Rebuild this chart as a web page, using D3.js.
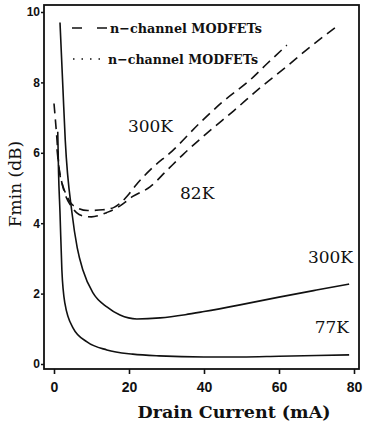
<!DOCTYPE html>
<html>
<head>
<meta charset="utf-8">
<script src="https://cdn.jsdelivr.net/npm/d3@7"></script>
<style>
  body { margin: 0; background: #fff; }
  svg { display: block; }
</style>
</head>
<body>
<svg id="chart" width="366" height="427"></svg>
<script>
// tick values
var xTicks = [0, 20, 40, 60, 80];
var yTicks = [0, 2, 4, 6, 8, 10];

// curves, [drain current mA, Fmin dB]
var solid300K = [[1.6, 9.7], [2.4, 7.78], [3.0, 6.36], [4.8, 4.29], [6.2, 3.3], [7.7, 2.67],
  [10.4, 2.02], [14.1, 1.62], [17.6, 1.39], [22.1, 1.28], [28.3, 1.31], [35, 1.4],
  [40, 1.49], [49.6, 1.68], [60, 1.9], [70, 2.1], [78.7, 2.27]];
var solid77K = [[1.0, 6.6], [1.2, 5.5], [1.6, 4.3], [2.1, 2.67], [2.9, 1.73], [5.1, 1.02],
  [8.8, 0.63], [14.1, 0.40], [21, 0.28], [28, 0.23], [40, 0.2], [50, 0.2], [60, 0.22],
  [70, 0.24], [78.7, 0.26]];
var dashed300K = [[0, 7.4], [0.8, 6.36], [1.3, 5.6], [2.1, 5.15], [2.9, 4.9], [4.5, 4.57],
  [6, 4.45], [9, 4.36], [13, 4.38], [16, 4.45], [18, 4.6], [20, 4.83], [22, 5.1],
  [26, 5.55], [31.5, 6.05], [38.9, 6.85], [45, 7.45], [52.3, 8.07], [57, 8.55], [62.1, 9.06]];
var dashed82K = [[0.8, 6.1], [1.3, 5.6], [2.1, 5.15], [3.2, 4.75], [4.5, 4.5], [6, 4.3],
  [8, 4.2], [10, 4.18], [12, 4.22], [14, 4.3], [17, 4.45], [19, 4.6], [21, 4.76],
  [25.6, 5.03], [30.1, 5.5], [34.4, 5.95], [40.8, 6.56], [48, 7.2], [55, 7.85],
  [62, 8.45], [68, 8.98], [74.9, 9.55]];

// temperature labels, anchored in data units
var tempLabels = [
  { text: "300K", at: [19.7, 6.6] },
  { text: "82K", at: [33.6, 4.7] },
  { text: "300K", at: [67.7, 2.88] },
  { text: "77K", at: [69.5, 0.88] }
];
var legendText = ["n\u2212channel MODFETs", "n\u2212channel MODFETs"];

var svg = d3.select("#chart");

var x = d3.scaleLinear().domain([0, 80]).range([54, 354]);
var y = d3.scaleLinear().domain([0, 10]).range([364, 12]);

// plot box edges
var boxL = 44, boxT = 5, boxR = 359, boxB = 369;

svg.append("rect")
  .attr("x", boxL).attr("y", boxT)
  .attr("width", boxR - boxL).attr("height", boxB - boxT)
  .attr("fill", "none").attr("stroke", "#111").attr("stroke-width", 1.8);

// x axis
var gx = svg.append("g")
  .attr("transform", "translate(0," + boxB + ")")
  .call(d3.axisBottom(x).tickValues(xTicks).tickSize(5).tickPadding(8));
gx.select(".domain").remove();
gx.selectAll("line").attr("stroke", "#111").attr("stroke-width", 1.6);
gx.selectAll("text")
  .attr("font-family", "Liberation Sans, Arial, sans-serif")
  .attr("font-weight", "bold").attr("font-size", 14).attr("fill", "#111");

// y axis
var gy = svg.append("g")
  .attr("transform", "translate(" + boxL + ",0)")
  .call(d3.axisLeft(y).tickValues(yTicks).tickSize(3).tickPadding(1));
gy.select(".domain").remove();
gy.selectAll("line").attr("stroke", "#111").attr("stroke-width", 1.5);
gy.selectAll("text")
  .attr("font-family", "Liberation Sans, Arial, sans-serif")
  .attr("font-weight", "bold").attr("font-size", 12).attr("fill", "#111");

// axis titles
svg.append("text")
  .attr("x", 234).attr("y", 418)
  .attr("text-anchor", "middle")
  .attr("font-family", "DejaVu Serif, serif").attr("font-weight", "bold")
  .attr("font-size", 17).attr("textLength", 193).attr("lengthAdjust", "spacingAndGlyphs")
  .attr("fill", "#111")
  .text("Drain Current (mA)");

svg.append("text")
  .attr("transform", "translate(21,184) rotate(-90)")
  .attr("text-anchor", "middle")
  .attr("font-family", "DejaVu Serif, serif")
  .attr("font-size", 17).attr("fill", "#111")
  .text("Fmin (dB)");

// curves
var line = d3.line()
  .x(function (d) { return x(d[0]); })
  .y(function (d) { return y(d[1]); })
  .curve(d3.curveMonotoneX);

function drawCurve(data, dash) {
  svg.append("path")
    .datum(data)
    .attr("d", line)
    .attr("fill", "none")
    .attr("stroke", "#111")
    .attr("stroke-width", 1.6)
    .attr("stroke-dasharray", dash);
}
drawCurve(solid300K, null);
drawCurve(solid77K, null);
drawCurve(dashed300K, "10,6");
drawCurve(dashed82K, "10,6");

// temperature labels
svg.selectAll(".temp")
  .data(tempLabels)
  .enter().append("text")
  .attr("class", "temp")
  .attr("x", function (d) { return x(d.at[0]); })
  .attr("y", function (d) { return y(d.at[1]); })
  .attr("font-family", "DejaVu Serif, serif")
  .attr("font-size", 17).attr("fill", "#111")
  .text(function (d) { return d.text; });

// legend
svg.append("line")
  .attr("x1", 72).attr("x2", 108).attr("y1", 28).attr("y2", 28)
  .attr("stroke", "#111").attr("stroke-width", 1.4).attr("stroke-dasharray", "10,15");
svg.append("line")
  .attr("x1", 73).attr("x2", 102).attr("y1", 59).attr("y2", 59)
  .attr("stroke", "#111").attr("stroke-width", 1.4).attr("stroke-dasharray", "1.5,7");

svg.selectAll(".leg")
  .data(legendText)
  .enter().append("text")
  .attr("class", "leg")
  .attr("x", function (d, i) { return i == 0 ? 110 : 108; })
  .attr("y", function (d, i) { return i == 0 ? 33 : 64; })
  .attr("font-family", "DejaVu Serif, serif").attr("font-weight", "bold")
  .attr("font-size", 13).attr("textLength", function (d, i) { return i == 0 ? 152 : 150; })
  .attr("lengthAdjust", "spacingAndGlyphs")
  .attr("fill", "#111")
  .text(function (d) { return d; });
</script>
</body>
</html>
